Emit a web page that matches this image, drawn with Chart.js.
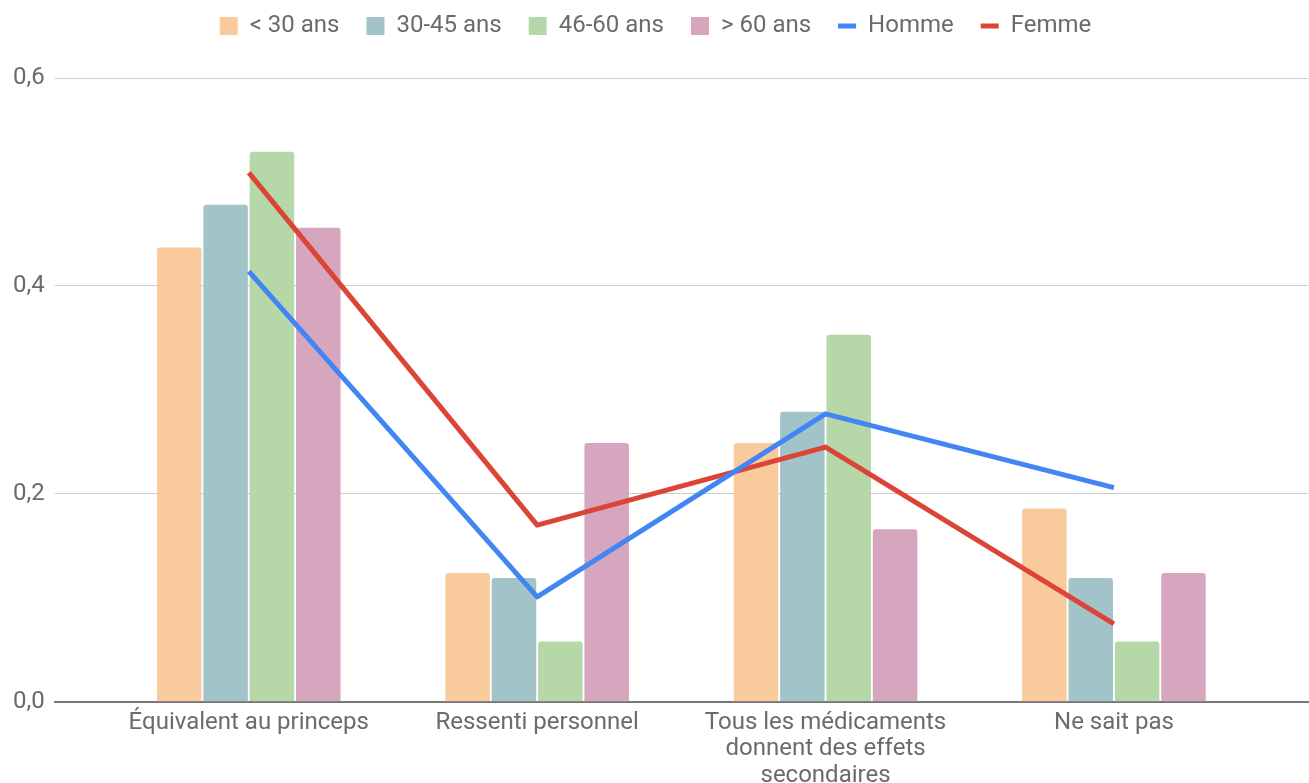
<!DOCTYPE html>
<html>
<head>
<meta charset="utf-8">
<script src="https://cdn.jsdelivr.net/npm/chart.js@4.4.1/dist/chart.umd.min.js"></script>
<style>
  html, body { margin: 0; padding: 0; background: #fff; }
  #wrap { position: relative; width: 1309px; height: 783px; }
</style>
</head>
<body>
<div id="wrap"><canvas id="c" width="1309" height="783"></canvas></div>
<script>
const categories = ["Équivalent au princeps", "Ressenti personnel", "Tous les médicaments donnent des effets secondaires", "Ne sait pas"];
const tickLabels = [["Équivalent au princeps"], ["Ressenti personnel"], ["Tous les médicaments", "donnent des effets", "secondaires"], ["Ne sait pas"]];
const under30 = [0.437, 0.124, 0.249, 0.186];
const age30to45 = [0.478, 0.119, 0.279, 0.119];
const age46to60 = [0.529, 0.058, 0.353, 0.058];
const over60 = [0.456, 0.249, 0.166, 0.124];
const homme = [0.414, 0.101, 0.277, 0.206];
const femme = [0.509, 0.170, 0.245, 0.075];
const yTicks = [0, 0.2, 0.4, 0.6];

const toPts = arr => arr.map((v, i) => ({ x: i, y: v }));
const FONT = "Roboto, 'Noto Sans', sans-serif";
const TXT = '#6b6b6b';

const barDs = (label, data, color) => ({
  type: 'bar', label, data: toPts(data), backgroundColor: color, borderWidth: 0,
  borderRadius: 3, borderSkipped: 'bottom', order: 2, pointStyle: 'rect'
});
const lineDs = (label, data, color) => ({
  type: 'line', label, data: toPts(data), borderColor: color, backgroundColor: color,
  borderWidth: 5, pointRadius: 0, pointHoverRadius: 0, tension: 0, order: 1,
  pointStyle: 'line', borderCapStyle: 'butt', borderJoinStyle: 'round'
});

new Chart(document.getElementById('c'), {
  data: {
    datasets: [
      barDs('< 30 ans', under30, '#f9cb9c'),
      barDs('30-45 ans', age30to45, '#a2c4c9'),
      barDs('46-60 ans', age46to60, '#b6d7a8'),
      barDs('> 60 ans', over60, '#d5a6bd'),
      lineDs('Homme', homme, '#4285f4'),
      lineDs('Femme', femme, '#db4437')
    ]
  },
  options: {
    responsive: false,
    animation: false,
    layout: { padding: { left: 3, right: 1, top: -13, bottom: -14 } },
    datasets: { bar: { categoryPercentage: 0.643, barPercentage: 0.96 } },
    plugins: {
      tooltip: { enabled: false },
      legend: {
        position: 'top',
        align: 'center',
        labels: {
          usePointStyle: true,
          pointStyleWidth: 18,
          boxHeight: 18,
          padding: 27,
          color: TXT,
          font: { family: FONT, size: 24 },
          sort: (a, b) => a.datasetIndex - b.datasetIndex
        }
      }
    },
    scales: {
      x: {
        type: 'linear',
        min: -0.673,
        max: 3.673,
        offset: false,
        grid: { display: false, offset: false, drawTicks: false },
        border: { display: true, color: '#777777', width: 2 },
        afterBuildTicks: s => { s.ticks = categories.map((_, i) => ({ value: i })); },
        ticks: {
          autoSkip: false, maxRotation: 0, minRotation: 0, padding: 8,
          color: TXT, font: { family: FONT, size: 24, lineHeight: 1.1 },
          callback: v => tickLabels[v]
        }
      },
      y: {
        min: 0, max: 0.6289,
        afterBuildTicks: s => { s.ticks = yTicks.map(v => ({ value: v })); },
        grid: { color: '#cccccc', lineWidth: 1, drawTicks: false },
        border: { display: false },
        ticks: {
          padding: 10, color: TXT, font: { family: FONT, size: 24 },
          callback: v => v.toFixed(1).replace('.', ',')
        }
      }
    }
  }
});
</script>
</body>
</html>
